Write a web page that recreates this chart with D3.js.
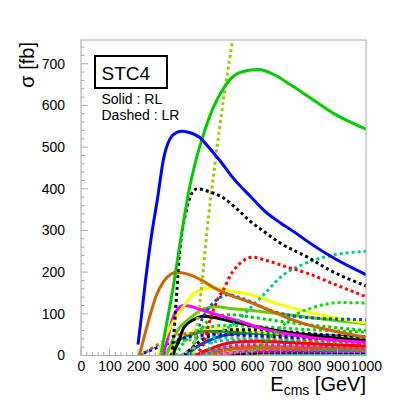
<!DOCTYPE html>
<html>
<head>
<meta charset="utf-8">
<script src="https://cdn.jsdelivr.net/npm/d3@7"></script>
<style>
html,body{margin:0;padding:0;background:#fff;}
svg{display:block;font-family:"Liberation Sans",Arial,Helvetica,sans-serif;}
</style>
</head>
<body>
<svg id="chart" width="407" height="407"></svg>
<script>
// ---------- data (E_cms [GeV], sigma [fb]) ----------
const xTicks = [0,100,200,300,400,500,600,700,800,900,1000];
const yTicks = [0,100,200,300,400,500,600,700];
const xTitle = "E";
const xTitleSub = "cms";
const xTitleUnit = " [GeV]";
const yTitle = "σ [fb]";
const legendTitle = "STC4";
const legendLines = ["Solid : RL", "Dashed : LR"];

const blueRL = [[200,26],[213,100],[226,178],[235,226],[250,300],[267,370],[290,473],[313,521],[335,535],[354,538],[380,535],[400,530],[419,522],[440,506],[460,490],[489,466],[535,425],[594,382],[652,342],[700,318],[749,296],[792,275],[876,238],[1000,194]];
const greenRL = [[280,0],[300,75],[320,150],[354,297],[378,393],[400,460],[425,520],[454,578],[500,641],[535,670],[580,683],[623,686],[680,673],[734,650],[800,620],[886,581],[1000,543]];
const limeLR = [[392,0],[401,45],[412,100],[424,170],[442,298],[470,460],[500,615],[532,760],[545,830]];
const blackLR = [[318,0],[325,45],[331,100],[337,160],[343,225],[352,285],[365,335],[380,375],[395,395],[410,400],[450,393],[500,378],[550,350],[594,322],[641,298],[699,270],[800,234],[875,204],[1000,167]];
const brownRL = [[205,0],[220,40],[243,98],[265,145],[290,178],[315,195],[337,200],[380,194],[430,178],[466,163],[512,148],[600,126],[677,104],[758,82],[850,64],[1000,44]];
const yellowRL = [[270,0],[289,34],[325,82],[360,118],[407,154],[460,163],[524,155],[600,145],[664,130],[750,113],[839,98],[1000,78]];
const magentaRL = [[285,0],[300,30],[320,85],[340,112],[360,120],[390,117],[430,108],[512,91],[560,82],[629,66],[677,58],[800,44],[1000,32]];
const limeRL = [[300,0],[337,58],[383,90],[430,112],[477,117],[524,113],[600,108],[700,100],[816,90],[1000,76]];
const blackRL = [[322,0],[330,15],[343,34],[360,66],[395,86],[430,94],[477,90],[524,82],[582,74],[700,58],[850,45],[1000,36]];
const redLR = [[400,0],[430,30],[455,90],[480,135],[500,158],[524,192],[560,222],[600,236],[650,228],[734,210],[800,196],[875,175],[1000,141]];
const tealLR = [[440,0],[466,42],[500,60],[547,82],[600,118],[641,146],[711,194],[760,213],[805,226],[877,240],[1000,250]];
const greenLR = [[580,0],[640,30],[699,66],[758,100],[800,112],[851,122],[910,127],[1000,126]];
const azureLR = [[385,0],[400,40],[420,80],[450,115],[490,140],[515,146],[560,138],[677,105],[792,91],[1000,86]];
const blueLR = [[200,0],[250,14],[300,28],[350,40],[400,47],[500,50],[600,48],[800,42],[1000,36]];
const orangeLR = [[210,0],[250,18],[290,34],[330,47],[380,53],[450,54],[550,50],[700,42],[850,35],[1000,30]];
const green2LR = [[330,0],[360,30],[400,55],[450,68],[500,72],[600,70],[800,62],[1000,56]];
const green3LR = [[380,0],[420,60],[460,90],[524,98],[600,92],[700,82],[850,70],[1000,60]];
const darkGreenRL = [[290,0],[330,30],[380,50],[450,58],[550,56],[700,50],[1000,40]];
const blue2RL = [[370,0],[400,18],[442,34],[500,48],[580,54],[700,53],[850,48],[1000,44]];
const red2RL = [[400,0],[450,15],[500,27],[560,33],[620,34],[700,32],[850,27],[1000,23]];
const cyanLR = [[350,0],[400,18],[450,30],[500,36],[600,38],[800,33],[1000,28]];
const magentaLR = [[420,0],[470,14],[520,22],[600,26],[700,25],[850,22],[1000,19]];
const black2LR = [[360,0],[420,35],[480,55],[530,62],[600,62],[700,58],[850,50],[1000,45]];
const yellowLR = [[300,0],[350,40],[400,62],[450,66],[520,64],[600,58],[800,48],[1000,40]];
const orange2RL = [[450,0],[500,12],[560,18],[650,20],[800,18],[1000,15]];
const green4LR = [[290,0],[320,20],[360,35],[420,40],[500,42],[650,40],[800,36],[1000,32]];
const tealRL = [[430,0],[480,10],[540,16],[620,18],[800,16],[1000,13]];
const ochreLR = [[480,0],[540,8],[600,13],[700,15],[850,14],[1000,12]];
const indigoLR = [[500,0],[560,8],[640,12],[800,12],[1000,10]];
const red2LR = [[440,0],[500,14],[560,20],[650,22],[800,20],[1000,17]];
const lime2RL = [[400,0],[460,12],[530,20],[620,23],[800,21],[1000,18]];
const magenta2RL = [[470,0],[520,6],[600,10],[750,11],[1000,9]];
const black3RL = [[520,0],[580,5],[680,8],[850,8],[1000,7]];
const orange3LR = [[540,0],[600,4],[700,6],[1000,6]];
const cyanRL = [[560,0],[620,3],[750,5],[1000,5]];
const blue3RL = [[600,0],[700,3],[1000,4]];
const salmonRL = [[300,0.6],[600,0.8],[1000,0.8]];

// ---------- styles ----------
const series = [
  {d: salmonRL, c: "#dd8866", dash: false},
  {d: blue3RL, c: "#0066ff", dash: false},
  {d: cyanRL, c: "#00cccc", dash: false},
  {d: orange3LR, c: "#cc6600", dash: true},
  {d: black3RL, c: "#000000", dash: false},
  {d: magenta2RL, c: "#ff00ff", dash: false},
  {d: lime2RL, c: "#99cc00", dash: false},
  {d: red2LR, c: "#ff0000", dash: true},
  {d: indigoLR, c: "#3333cc", dash: true},
  {d: ochreLR, c: "#cc9933", dash: true},
  {d: tealRL, c: "#00aa88", dash: false},
  {d: green4LR, c: "#33cc33", dash: true},
  {d: orange2RL, c: "#cc6600", dash: false},
  {d: magentaLR, c: "#ff00ff", dash: true},
  {d: cyanLR, c: "#00cccc", dash: true},
  {d: red2RL, c: "#ff0000", dash: false},
  {d: blue2RL, c: "#0044cc", dash: false},
  {d: darkGreenRL, c: "#009900", dash: false},
  {d: yellowLR, c: "#ffff00", dash: true},
  {d: black2LR, c: "#000000", dash: true},
  {d: green2LR, c: "#00dd00", dash: true},
  {d: green3LR, c: "#00cc00", dash: true},
  {d: orangeLR, c: "#cc6600", dash: true},
  {d: blueLR, c: "#0000ff", dash: true},
  {d: blackRL, c: "#000000", dash: false},
  {d: limeRL, c: "#66cc00", dash: false},
  {d: magentaRL, c: "#ff00ff", dash: false},
  {d: yellowRL, c: "#ffff00", dash: false},
  {d: greenLR, c: "#00dd00", dash: true},
  {d: tealLR, c: "#00cc88", dash: true},
  {d: azureLR, c: "#0055dd", dash: true},
  {d: brownRL, c: "#cc6600", dash: false},
  {d: redLR, c: "#ff0000", dash: true},
  {d: limeLR, c: "#99cc00", dash: true},
  {d: blackLR, c: "#000000", dash: true},
  {d: greenRL, c: "#00cc00", dash: false},
  {d: blueRL, c: "#0000ff", dash: false}
];

// ---------- layout ----------
const svg = d3.select("#chart");
const L = 81, R = 366, T = 40, B = 355.5;
const x = d3.scaleLinear().domain([0, 1000]).range([L, R]);
const y = d3.scaleLinear().domain([0, 757]).range([B, T]);
const axisColor = "#aaaaaa";

svg.append("defs").append("clipPath").attr("id", "clip")
  .append("rect").attr("x", L).attr("y", T).attr("width", R - L).attr("height", B - T);

// curves
const line = d3.line().x(d => x(d[0])).y(d => y(d[1])).curve(d3.curveMonotoneX);
const g = svg.append("g").attr("clip-path", "url(#clip)");
series.forEach(s => {
  g.append("path").datum(s.d)
    .attr("d", line)
    .attr("fill", "none")
    .attr("stroke", s.c)
    .attr("stroke-width", 3)
    .attr("stroke-dasharray", s.dash ? "3,3" : null);
});

// frame
svg.append("rect").attr("x", L).attr("y", T).attr("width", R - L).attr("height", B - T)
  .attr("fill", "none").attr("stroke", axisColor).attr("stroke-width", 1);

// axes (ticks inside the frame)
const xAxis = d3.axisBottom(x).tickValues(xTicks).tickSize(0).tickFormat(d3.format("d"));
const xg = svg.append("g").attr("transform", `translate(0,${B})`).call(xAxis);
xg.select(".domain").remove();
xg.selectAll("text").attr("dy", null).attr("y", 15).attr("font-size", 14).attr("fill", "#000")
  .attr("font-family", "Liberation Sans, Arial, sans-serif");

const xMinor = d3.range(0, 1001, 20);
svg.append("g").selectAll("line").data(xMinor).join("line")
  .attr("x1", d => x(d)).attr("x2", d => x(d))
  .attr("y1", B).attr("y2", d => B - (d % 100 === 0 ? 7 : 3.5))
  .attr("stroke", axisColor).attr("stroke-width", 1);

const yAxis = d3.axisLeft(y).tickValues(yTicks).tickSize(0).tickPadding(16).tickFormat(d3.format("d"));
const yg = svg.append("g").attr("transform", `translate(${L},0)`).call(yAxis);
yg.select(".domain").remove();
yg.selectAll("text").attr("font-size", 14).attr("fill", "#000")
  .attr("font-family", "Liberation Sans, Arial, sans-serif");

const yMinor = d3.range(0, 757, 20);
svg.append("g").selectAll("line").data(yMinor).join("line")
  .attr("y1", d => y(d)).attr("y2", d => y(d))
  .attr("x1", L).attr("x2", d => L + (d % 100 === 0 ? 7 : 3.5))
  .attr("stroke", axisColor).attr("stroke-width", 1);

// axis titles
const xt = svg.append("text").attr("x", R).attr("y", 391).attr("text-anchor", "end")
  .attr("font-size", 20).attr("fill", "#000");
xt.append("tspan").text(xTitle);
xt.append("tspan").attr("font-size", 14).attr("dy", 4).text(xTitleSub);
xt.append("tspan").attr("dy", -4).text(xTitleUnit);

svg.append("text").attr("transform", "translate(34,42) rotate(-90)")
  .attr("text-anchor", "end").attr("font-size", 20).attr("fill", "#000").text(yTitle);

// legend box
svg.append("rect").attr("x", 95).attr("y", 56).attr("width", 72).attr("height", 32)
  .attr("fill", "#fff").attr("stroke", "#000").attr("stroke-width", 2);
svg.append("text").attr("x", 101.5).attr("y", 80).attr("font-size", 19).attr("fill", "#000").text(legendTitle);
legendLines.forEach((t, i) => {
  svg.append("text").attr("x", 101.5).attr("y", 104 + i * 15.5).attr("font-size", 14).attr("fill", "#000").text(t);
});
</script>
</body>
</html>
